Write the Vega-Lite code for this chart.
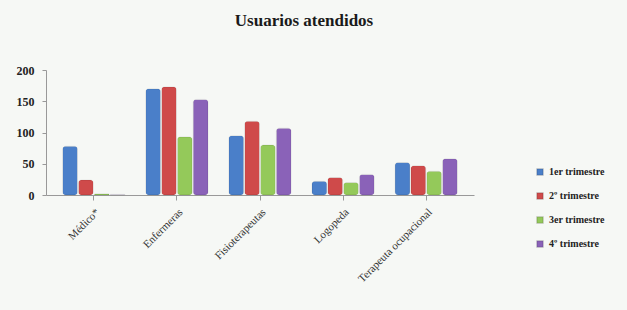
{
  "$schema": "https://vega.github.io/schema/vega-lite/v6.json",
  "autosize": "none",
  "width": 428,
  "height": 125,
  "padding": {"left": 46, "top": 70, "right": 153, "bottom": 115},
  "background": "#f6f8f5",
  "title": {"text": "Usuarios atendidos", "font": "Liberation Serif", "fontSize": 17, "fontWeight": "bold", "color": "#1a1a1a", "offset": 34, "dx": 44},
  "data": {"values": [
    {"cat": "Médico*", "t": "1er trimestre", "v": 78},
    {"cat": "Médico*", "t": "2º trimestre", "v": 24},
    {"cat": "Médico*", "t": "3er trimestre", "v": 2},
    {"cat": "Médico*", "t": "4º trimestre", "v": 1},
    {"cat": "Enfermeras", "t": "1er trimestre", "v": 170},
    {"cat": "Enfermeras", "t": "2º trimestre", "v": 173},
    {"cat": "Enfermeras", "t": "3er trimestre", "v": 93},
    {"cat": "Enfermeras", "t": "4º trimestre", "v": 153},
    {"cat": "Fisioterapeutas", "t": "1er trimestre", "v": 95},
    {"cat": "Fisioterapeutas", "t": "2º trimestre", "v": 118},
    {"cat": "Fisioterapeutas", "t": "3er trimestre", "v": 80},
    {"cat": "Fisioterapeutas", "t": "4º trimestre", "v": 107},
    {"cat": "Logopeda", "t": "1er trimestre", "v": 22},
    {"cat": "Logopeda", "t": "2º trimestre", "v": 28},
    {"cat": "Logopeda", "t": "3er trimestre", "v": 20},
    {"cat": "Logopeda", "t": "4º trimestre", "v": 33},
    {"cat": "Terapeuta ocupacional", "t": "1er trimestre", "v": 52},
    {"cat": "Terapeuta ocupacional", "t": "2º trimestre", "v": 47},
    {"cat": "Terapeuta ocupacional", "t": "3er trimestre", "v": 38},
    {"cat": "Terapeuta ocupacional", "t": "4º trimestre", "v": 58}
  ]},
  "mark": {"type": "bar", "cornerRadius": 3, "stroke": "#00000022", "strokeWidth": 0.5},
  "encoding": {
    "x": {"field": "cat", "type": "nominal", "sort": null, "title": null,
      "scale": {"paddingInner": 0.25, "paddingOuter": 0.2},
      "axis": {"labelAngle": -45, "labelFont": "Liberation Serif", "labelFontSize": 11, "labelColor": "#333", "domainColor": "#999", "tickColor": "#999", "labelPadding": 6}},
    "xOffset": {"field": "t", "type": "nominal", "scale": {"paddingInner": 0.06}},
    "y": {"field": "v", "type": "quantitative", "title": null,
      "scale": {"domain": [0, 200]},
      "axis": {"values": [0, 50, 100, 150, 200], "grid": false, "labelFont": "Liberation Serif", "labelFontWeight": "bold", "labelFontSize": 12, "labelColor": "#222", "domainColor": "#999", "tickColor": "#999", "tickSize": 4, "labelPadding": 8}},
    "color": {"field": "t", "type": "nominal", "title": null,
      "scale": {"domain": ["1er trimestre", "2º trimestre", "3er trimestre", "4º trimestre"], "range": ["#4a7fc9", "#cf4a4a", "#94c95a", "#8a62b8"]},
      "legend": {"orient": "none", "legendX": 489, "legendY": 97, "symbolType": "square", "symbolSize": 40, "labelFont": "Liberation Serif", "labelFontWeight": "bold", "labelFontSize": 10, "labelColor": "#222", "rowPadding": 10}}
  },
  "config": {"view": {"stroke": null}}
}
